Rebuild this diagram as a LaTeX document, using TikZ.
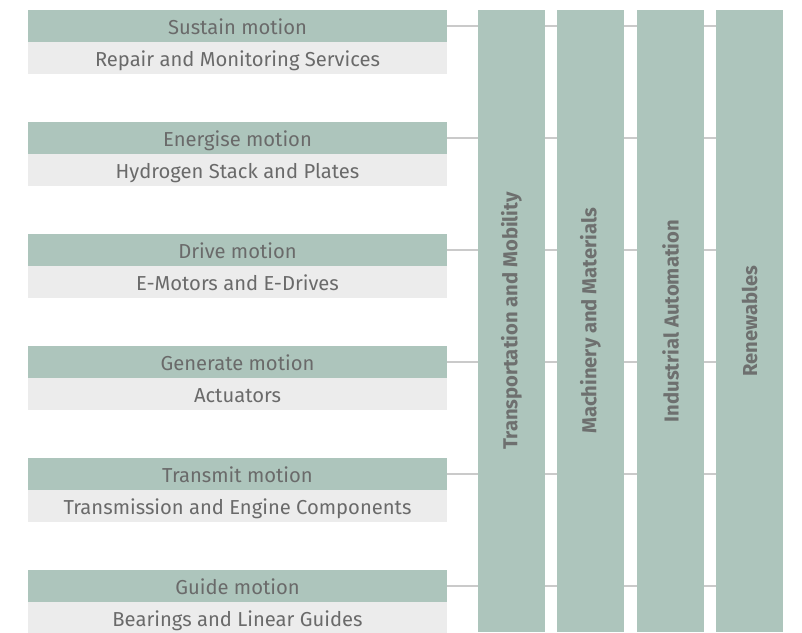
\documentclass[tikz,border=0pt]{standalone}
\usepackage{fontspec}
\setmainfont{Fira Sans}
\begin{document}
\begin{tikzpicture}[x=1pt,y=-1pt,
  every node/.style={inner sep=0pt,outer sep=0pt},
  band/.style={minimum width=419pt,minimum height=32pt,anchor=north west,
     text=txtgray,font=\fontsize{20.2}{23}\selectfont,text height=17.5pt,text depth=0pt},
  headbox/.style={band,fill=sage},
  subbox/.style={band,fill=paleg},
  colbox/.style={fill=sage,minimum width=67pt,minimum height=622pt,anchor=north west},
  collabel/.style={rotate=90,text=lblgray,font=\fontsize{20.2}{23}\selectfont\bfseries},
  link/.style={draw=linegray,line width=1.2pt}]
\definecolor{sage}{HTML}{ADC5BC}
\definecolor{paleg}{HTML}{ECECEC}
\definecolor{txtgray}{HTML}{6A6A6A}
\definecolor{lblgray}{HTML}{6E706F}
\definecolor{linegray}{HTML}{CACACA}
\useasboundingbox (0,0) rectangle (802,632);
\clip (0,0) rectangle (802,632);
% columns
\node[colbox] (c1) at (478,10) {};
\node[colbox] (c2) at (557,10) {};
\node[colbox] (c3) at (637,10) {};
\node[colbox] (c4) at (716,10) {};
\node[collabel] (l1) at (c1.center) {Transportation and Mobility};
\node[collabel] (l2) at (c2.center) {Machinery and Materials};
\node[collabel] (l3) at (c3.center) {Industrial Automation};
\node[collabel] (l4) at (c4.center) {Renewables};
% rows
\foreach \i/\h/\s in {0/Sustain motion/Repair and Monitoring Services,
                      1/Energise motion/Hydrogen Stack and Plates,
                      2/Drive motion/E-Motors and E-Drives,
                      3/Generate motion/Actuators,
                      4/Transmit motion/Transmission and Engine Components,
                      5/Guide motion/Bearings and Linear Guides}{
  \node[headbox] (h\i) at (28,{10+112*\i}) {\h};
  \node[subbox] (s\i) at (28,{42+112*\i}) {\s};
  \draw[link] (h\i.east) -- (c1.west |- h\i.east);
  \draw[link] (c1.east |- h\i.east) -- (c2.west |- h\i.east);
  \draw[link] (c2.east |- h\i.east) -- (c3.west |- h\i.east);
  \draw[link] (c3.east |- h\i.east) -- (c4.west |- h\i.east);
}
\end{tikzpicture}
\end{document}
